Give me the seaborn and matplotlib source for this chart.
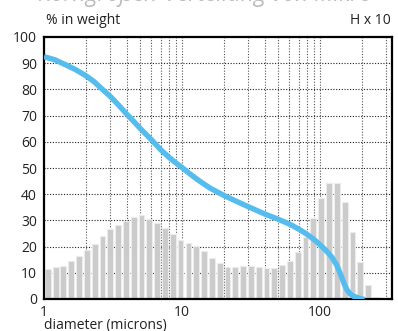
import numpy as np
import pandas as pd
import matplotlib
matplotlib.use("Agg")
import matplotlib.pyplot as plt
import seaborn as sns
from matplotlib.ticker import FixedLocator, NullFormatter

# ---- data ----
bar_diam = [1.065, 1.214, 1.382, 1.575, 1.794, 2.044, 2.329, 2.653, 3.022, 3.443,
            3.922, 4.468, 5.090, 5.799, 6.606, 7.525, 8.573, 9.766, 11.13, 12.67,
            14.44, 16.45, 18.74, 21.35, 24.32, 27.70, 31.56, 35.95, 40.95, 46.65,
            53.15, 60.55, 68.97, 78.57, 89.51, 102.0, 116.2, 132.3, 150.8, 171.8,
            195.7, 222.9, 254.0]
bar_vals = [11.5, 12.2, 12.7, 14.5, 16.3, 18.7, 21.0, 24.0, 26.6, 28.4,
            29.6, 31.4, 32.1, 30.5, 28.9, 27.1, 24.9, 22.4, 21.2, 20.2,
            18.4, 15.8, 13.6, 12.3, 12.1, 12.7, 12.7, 12.1, 11.8, 11.9,
            13.0, 14.6, 17.9, 23.8, 31.0, 38.7, 44.2, 44.2, 37.1, 25.6,
            14.2, 5.2, 0.9]

curve_diam = [1.0, 1.2, 1.46, 1.7, 2.0, 2.3, 2.55, 3.0, 3.5, 4.0, 4.5, 5.0,
              6.0, 7.0, 8.0, 9.0, 10.0, 11.5, 13.5, 16.0, 20.0, 25.0, 30.0,
              40.0, 50.0, 60.0, 70.0, 80.0, 90.0, 100.0, 112.0, 122.0, 132.0,
              138.0, 144.0, 150.0, 156.0, 165.0, 174.0, 190.0, 210.0]
curve_vals = [92.5, 91.3, 89.2, 87.5, 85.3, 83.0, 80.8, 77.5, 73.8, 70.4, 67.6, 65.0,
              60.8, 57.0, 54.2, 52.0, 50.2, 47.6, 44.9, 42.3, 39.6, 37.2, 35.3,
              32.4, 30.4, 28.6, 26.7, 24.8, 22.8, 20.7, 18.2, 15.9, 13.0,
              10.6, 8.1, 5.7, 3.7, 2.0, 1.1, 0.4, -0.2]

y_ticks = list(range(0, 101, 10))
x_major = [1, 10, 100]
x_labels = ["1", "10", "100"]
x_minor = [2, 3, 4, 5, 6, 7, 8, 9, 20, 30, 40, 50, 60, 70, 80, 90, 200, 300]

# ---- figure ----
sns.set_style("white")
plt.rcParams['font.family'] = ['Open Sans', 'DejaVu Sans']

fig = plt.figure(figsize=(3.98, 3.31), dpi=100)
ax = fig.add_axes([44 / 398, 1 - 299 / 331, (392 - 44) / 398, (299 - 37) / 331])

ax.set_xscale("log")
ax.set_xlim(1, 10 ** ((392 - 44) / 138))
ax.set_ylim(0, 100)

# grid
for v in y_ticks[1:-1]:
    ax.axhline(v, color="#222222", lw=0.8, ls=(0, (1, 1.5)), zorder=1)
for v in x_minor + [10, 100]:
    ax.axvline(v, color="#555555", lw=0.8, ls=(0, (1, 1.5)), zorder=1)

# bars with constant log width
half = 0.021
lefts = [10 ** (np.log10(d) - half) for d in bar_diam]
widths = [10 ** (np.log10(d) + half) - l for l, d in zip(lefts, bar_diam)]
ax.bar(lefts, bar_vals, width=widths, align="edge", color="#cbcbcb",
       edgecolor="#ececec", linewidth=0.8, zorder=2)

# cumulative curve
df = pd.DataFrame({"d": curve_diam, "v": curve_vals})
sns.lineplot(data=df, x="d", y="v", ax=ax, color="#55bdee", lw=3.9,
             zorder=3, sort=False, estimator=None)
ax.lines[-1].set_solid_joinstyle("round")
ax.lines[-1].set_solid_capstyle("butt")
ax.set_xlabel("")
ax.set_ylabel("")

ax.xaxis.set_major_locator(FixedLocator(x_major))
ax.set_xticklabels(x_labels)
ax.xaxis.set_minor_locator(FixedLocator(x_minor))
ax.xaxis.set_minor_formatter(NullFormatter())
ax.set_yticks(y_ticks)
ax.tick_params(axis="both", which="both", length=0, labelsize=10,
               colors="#222222")
ax.tick_params(axis="x", pad=4)
ax.tick_params(axis="y", pad=5)

for s in ax.spines.values():
    s.set_visible(True)
    s.set_color("black")
    s.set_linewidth(1.6)

fig.text(46 / 398, 1 - 21 / 331, "% in weight", fontsize=10, color="#222222",
         va="center", ha="left")
fig.text(391 / 398, 1 - 21 / 331, "H x 10", fontsize=10, color="#222222",
         va="center", ha="right")
fig.text(44 / 398, 1 - 325 / 331, "diameter (microns)", fontsize=10,
         color="#222222", va="center", ha="left")
fig.text(205 / 398, 1 - 1 / 331, "Korngrößen-Verteilung von Mikro",
         fontsize=16.5, style="italic", color="#bcbcbc", ha="center",
         va="baseline")

fig.savefig("out.png", dpi=100)
